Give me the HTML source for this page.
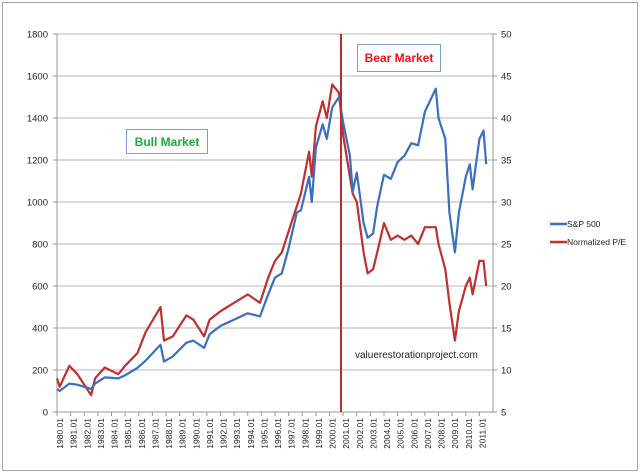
<!DOCTYPE html>
<html><head><meta charset="utf-8"><style>
html,body{margin:0;padding:0;background:#fff;}
svg{display:block;font-family:"Liberation Sans",sans-serif;}
</style></head><body>
<svg id="chart" width="640" height="473" viewBox="0 0 640 473" xmlns="http://www.w3.org/2000/svg">
<rect x="2.5" y="2.5" width="635" height="468" fill="#fff" stroke="#a6a6a6" stroke-width="1"/>
<g id="grid"></g>
<g id="axes"></g>
<g id="series"></g>
<line x1="341" y1="34" x2="341" y2="412" stroke="#c0282b" stroke-width="2"/>
<g>
<rect x="126.5" y="129.5" width="81" height="24" fill="#fff" stroke="#7f9fd0"/>
<text x="167" y="146" text-anchor="middle" font-size="12" font-weight="bold" fill="#1aab3c">Bull Market</text>
</g>
<g>
<rect x="357.5" y="44.5" width="83" height="27" fill="#fff" stroke="#7f9fd0"/>
<text x="399" y="62" text-anchor="middle" font-size="12" font-weight="bold" fill="#e8141b">Bear Market</text>
</g>
<text x="355" y="358" font-size="10" fill="#222">valuerestorationproject.com</text>
<g>
<g>
<line x1="550" y1="224" x2="567" y2="224" stroke="#3a6fbf" stroke-width="2.5"/>
<text x="567" y="227" font-size="8.5" fill="#222">S&amp;P 500</text>
</g>
<g>
<line x1="550" y1="242" x2="567" y2="242" stroke="#bf3030" stroke-width="2.5"/>
<text x="567" y="245" font-size="8.5" fill="#222">Normalized P/E</text>
</g>
</g>
</svg>
<script>
const leftTicks = [0,200,400,600,800,1000,1200,1400,1600,1800];
const rightTicks = [5,10,15,20,25,30,35,40,45,50];
const years = [1980,1981,1982,1983,1984,1985,1986,1987,1988,1989,1990,1991,1992,1993,1994,1995,1996,1997,1998,1999,2000,2001,2002,2003,2004,2005,2006,2007,2008,2009,2010,2011];
const spDates = [1980.0,1980.2,1980.9,1981.5,1982.5,1982.8,1983.5,1984.5,1985.0,1985.9,1986.5,1987.6,1987.85,1988.5,1989.5,1990.0,1990.8,1991.2,1992.0,1993.0,1994.0,1994.9,1995.5,1996.0,1996.5,1997.0,1997.6,1997.9,1998.5,1998.7,1999.0,1999.5,1999.8,2000.2,2000.7,2001.0,2001.5,2001.7,2002.0,2002.5,2002.8,2003.2,2003.5,2004.0,2004.5,2005.0,2005.5,2006.0,2006.5,2007.0,2007.8,2008.0,2008.5,2008.8,2009.2,2009.5,2010.0,2010.3,2010.5,2011.0,2011.3,2011.5];
const spValues = [110,100,135,130,110,135,165,160,175,210,245,320,240,265,330,340,305,370,410,440,470,455,560,640,660,780,950,960,1120,1000,1260,1370,1300,1450,1500,1380,1220,1050,1140,900,830,850,980,1130,1110,1190,1220,1280,1270,1430,1540,1400,1300,950,760,950,1120,1180,1060,1300,1340,1180];
const peValues = [9.0,8.0,10.5,9.5,7.0,9.0,10.3,9.5,10.5,12,14.5,17.5,13.5,14,16.5,16,14,16,17,18,19,18,21,23,24,26.5,29.5,31,36,33,39,42,40,44,43,38,33,31,30,24,21.5,22,24,27.5,25.5,26,25.5,26,25,27,27,25,22,18,13.5,17,20,21,19,23,23,20];

const X0=57, X1=493, Y0=412, Y1=34;
function xScale(d){ return X0 + (d-1980)*(X1-X0)/32; }
function yLeft(v){ return Y0 - (v-0)*(Y0-Y1)/1800; }
function yRight(v){ return Y0 - (v-5)*(Y0-Y1)/45; }
const NS="http://www.w3.org/2000/svg";
function mk(tag, attrs, parent){ const e=document.createElementNS(NS,tag); for(const k in attrs) e.setAttribute(k,attrs[k]); parent.appendChild(e); return e; }
const grid=document.getElementById('grid'), axes=document.getElementById('axes'), series=document.getElementById('series');
leftTicks.forEach((t,i)=>{
  const y=yLeft(t);
  if(t>0){ const g=mk('line',{x1:X0,x2:X1,y1:y,y2:y,stroke:'#b5b5b5','stroke-width':1},grid);
    
     }
  const lt=mk('text',{x:X0-9,y:y+3.5,'text-anchor':'end','font-size':'9.5',fill:'#222'},axes);
  lt.textContent=t;
  
  
  const rt=mk('text',{x:X1+8,y:yRight(rightTicks[i])+3.5,'font-size':'9.5',fill:'#222'},axes);
  rt.textContent=rightTicks[i];
  
  
  mk('line',{x1:X1,x2:X1+4,y1:yRight(rightTicks[i]),y2:yRight(rightTicks[i]),stroke:'#999'},axes);
  mk('line',{x1:X0-4,x2:X0,y1:y,y2:y,stroke:'#999'},axes);
});
mk('line',{x1:X0,x2:X0,y1:Y1,y2:Y0,stroke:'#999'},axes);
mk('line',{x1:X1,x2:X1,y1:Y1,y2:Y0,stroke:'#999'},axes);
mk('line',{x1:X0,x2:X1,y1:Y0,y2:Y0,stroke:'#999'},axes);
years.forEach(yr=>{
  const x=xScale(yr);
  mk('line',{x1:x,x2:x,y1:Y0,y2:Y0+4,stroke:'#999'},axes);
  const t=mk('text',{transform:`translate(${x+6},${Y0+6}) rotate(-90)`,'text-anchor':'end','font-size':'8.5',fill:'#222'},axes);
  t.textContent=yr+'.01';
  
  
});
function path(vals, yf){ return vals.map((v,i)=>(i?'L':'M')+xScale(spDates[i]).toFixed(1)+','+yf(v).toFixed(1)).join(''); }
const pe=mk('path',{d:path(peValues,yRight),fill:'none',stroke:'#bf3030','stroke-width':2.2,'stroke-linejoin':'round'},series);


const sp=mk('path',{d:path(spValues,yLeft),fill:'none',stroke:'#3a6fbf','stroke-width':2.2,'stroke-linejoin':'round'},series);


</script>
</body></html>
